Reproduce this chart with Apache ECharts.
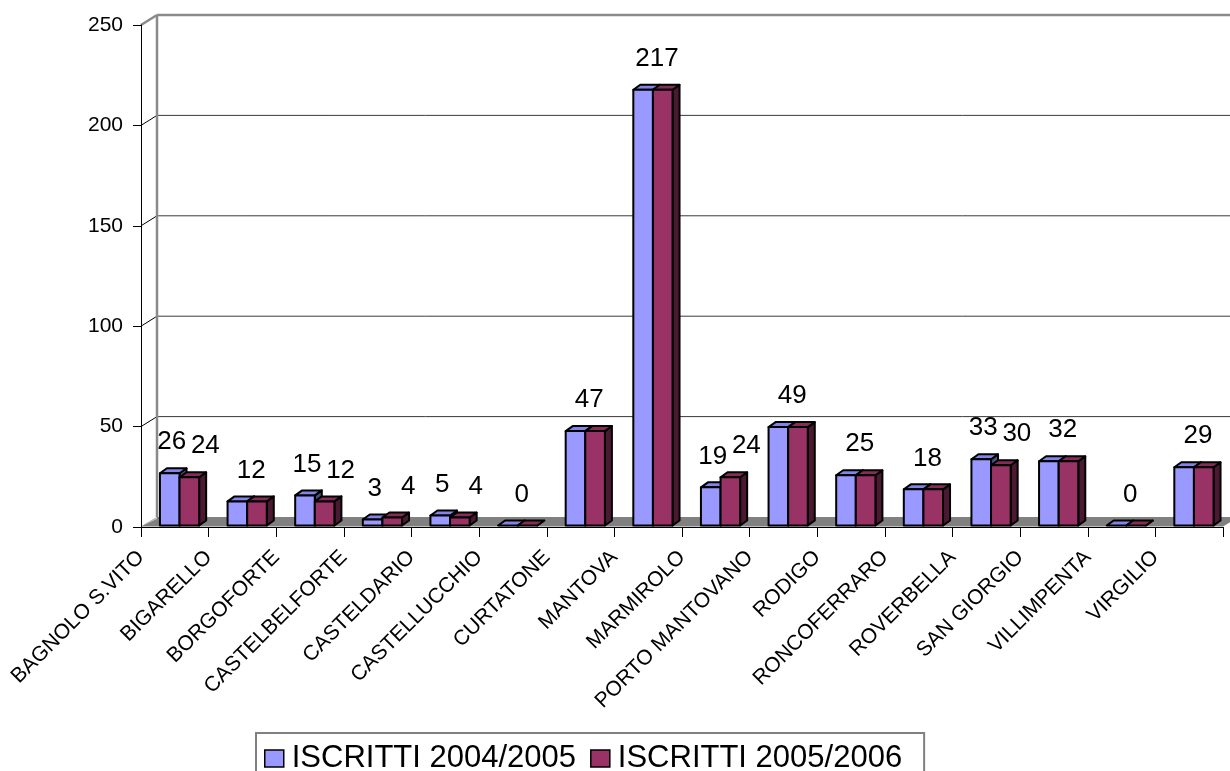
<!DOCTYPE html>
<html>
<head>
<meta charset="utf-8">
<title>Iscritti per comune</title>
<script src="https://cdn.jsdelivr.net/npm/echarts@6/dist/echarts.min.js"></script>
<style>
  html, body { margin: 0; padding: 0; background: #ffffff; }
  #chart { width: 1230px; height: 771px; }
</style>
</head>
<body>
<div id="chart"></div>
<script>
// Comuni (one band each) and enrolment counts for the two school years
const comuni = [
  'BAGNOLO S.VITO', 'BIGARELLO', 'BORGOFORTE', 'CASTELBELFORTE', 'CASTELDARIO',
  'CASTELLUCCHIO', 'CURTATONE', 'MANTOVA', 'MARMIROLO', 'PORTO MANTOVANO',
  'RODIGO', 'RONCOFERRARO', 'ROVERBELLA', 'SAN GIORGIO', 'VILLIMPENTA', 'VIRGILIO'
];
const iscritti0405 = [26, 12, 15, 3, 5, 0, 47, 217, 19, 49, 25, 18, 33, 32, 0, 29];
const iscritti0506 = [24, 12, 12, 4, 4, 0, 47, 217, 24, 49, 25, 18, 30, 32, 0, 29];
const seriesNames = ['ISCRITTI 2004/2005', 'ISCRITTI 2005/2006'];
const valueTicks = [0, 50, 100, 150, 200, 250];

const FONT = "'Liberation Sans', Arial, Helvetica, sans-serif";

// pseudo-3D geometry: wall depth and column depth in pixels
const WALL = [16, -10];
const DEPTH = [7, -5];
const SHIFT = [0, -1.5];

const faceColors = [
  { front: '#9999FF', top: '#8484E6', side: '#4D4D80' },
  { front: '#993366', top: '#862C59', side: '#4C1933' }
];
const allValues = [iscritti0405, iscritti0506];

// back wall, left-wall tick diagonals, grey floor and value-axis labels
function renderFrame(params, api) {
  const cs = params.coordSys;
  const v = api.value(1);
  const y = api.coord([0, v])[1];
  const x0 = cs.x, x1 = cs.x + cs.width;
  const maxTick = valueTicks[valueTicks.length - 1];
  const children = [];
  if (v === 0) {
    children.push({
      type: 'polygon',
      shape: { points: [[x0, y - 0.5], [x1, y - 0.5], [x1 + WALL[0], y + WALL[1]], [x0 + WALL[0], y + WALL[1]]] },
      style: { fill: '#808080' }
    });
    children.push({
      type: 'polygon',
      shape: { points: [[x0, y - 0.5], [x0 + WALL[0], y + WALL[1]], [x0 + WALL[0], y + WALL[1] + 2]] },
      style: { fill: '#c0c0c0' }
    });
  } else if (v === maxTick) {
    const yBase = api.coord([0, 0])[1];
    children.push({
      type: 'line',
      shape: { x1: x0, y1: y, x2: x0 + WALL[0], y2: y + WALL[1] },
      style: { stroke: '#8a8a8a', lineWidth: 2.5 }
    });
    children.push({
      type: 'line',
      shape: { x1: x0 + WALL[0], y1: y + WALL[1], x2: x1 + WALL[0] + 20, y2: y + WALL[1] },
      style: { stroke: '#8a8a8a', lineWidth: 2.5 }
    });
    children.push({
      type: 'line',
      shape: { x1: x0 + WALL[0], y1: y + WALL[1], x2: x0 + WALL[0], y2: yBase + WALL[1] },
      style: { stroke: '#8a8a8a', lineWidth: 2.5 }
    });
  } else {
    children.push({
      type: 'line',
      shape: { x1: x0, y1: y, x2: x0 + WALL[0], y2: y + WALL[1] },
      style: { stroke: '#000000', lineWidth: 1 }
    });
    children.push({
      type: 'line',
      shape: { x1: x0 + WALL[0], y1: y + WALL[1], x2: x1 + WALL[0] + 20, y2: y + WALL[1] },
      style: { stroke: '#3a3a3a', lineWidth: 1 }
    });
  }
  // tick label on the value axis
  children.push({
    type: 'text',
    style: {
      text: String(v),
      x: x0 - 18,
      y: y,
      align: 'right',
      verticalAlign: 'middle',
      fill: '#000000',
      font: '21px ' + FONT
    }
  });
  return { type: 'group', children: children };
}

// one 3D column (front, top and side faces) plus its value label
function makeColumnRenderer(s) {
  return function (params, api) {
    const i = api.value(0);
    const v = api.value(1);
    const band = api.size([1, 0])[0];
    const bw = band * 0.29;
    const start = api.coord([i, 0])[0];
    const xL = start + band * 0.28 + s * bw + SHIFT[0];
    const yB = api.coord([i, 0])[1] + SHIFT[1];
    const yT = api.coord([i, v])[1] + SHIFT[1];
    const c = faceColors[s];
    const stroke = { stroke: '#000000', lineWidth: 2, lineJoin: 'round' };
    const children = [
      {
        type: 'polygon',
        shape: { points: [[xL + bw, yT], [xL + bw + DEPTH[0], yT + DEPTH[1]], [xL + bw + DEPTH[0], yB + DEPTH[1]], [xL + bw, yB]] },
        style: Object.assign({ fill: c.side }, stroke)
      },
      {
        type: 'polygon',
        shape: { points: [[xL, yT], [xL + bw, yT], [xL + bw + DEPTH[0], yT + DEPTH[1]], [xL + DEPTH[0], yT + DEPTH[1]]] },
        style: Object.assign({ fill: c.top }, stroke)
      }
    ];
    if (yB - yT > 0.5) {
      children.push({
        type: 'rect',
        shape: { x: xL, y: yT, width: bw, height: yB - yT },
        style: Object.assign({ fill: c.front }, stroke)
      });
    }
    // equal pairs carry a single label centred on the pair
    const other = allValues[1 - s][i];
    const same = other === v;
    let lx = null;
    if (s === 0) lx = same ? xL + bw + 4 : xL + bw / 2 + 2;
    else if (!same) lx = xL + bw / 2 + 16;
    if (lx !== null) {
      children.push({
        type: 'text',
        z2: 10,
        style: {
          text: String(v),
          x: lx,
          y: yT - 31,
          align: 'center',
          verticalAlign: 'middle',
          fill: '#000000',
          font: '26px ' + FONT
        }
      });
    }
    return { type: 'group', children: children };
  };
}

const chart = echarts.init(document.getElementById('chart'), null, { renderer: 'canvas' });

chart.setOption({
  backgroundColor: '#ffffff',
  animation: false,
  textStyle: { fontFamily: FONT },
  grid: { left: 141, top: 25, right: 7, bottom: 244, containLabel: false },
  legend: {
    data: seriesNames,
    left: 256,
    top: 733,
    icon: 'rect',
    itemWidth: 19,
    itemHeight: 17,
    itemGap: 14,
    padding: [10, 22, 12, 8],
    borderColor: '#808080',
    borderWidth: 2,
    itemStyle: { borderColor: '#000000', borderWidth: 1.5 },
    textStyle: { fontSize: 31, color: '#000000', fontFamily: FONT, padding: [0, 0, 0, 3] }
  },
  xAxis: {
    type: 'category',
    data: comuni.concat(['']),
    boundaryGap: false,
    z: 5,
    axisLine: { show: true, lineStyle: { color: '#000000', width: 1 } },
    axisTick: { show: true, length: 10, interval: 0, lineStyle: { color: '#000000', width: 1 } },
    axisLabel: {
      interval: 0,
      rotate: 45,
      margin: 27,
      fontSize: 21,
      color: '#000000',
      fontFamily: FONT
    },
    splitLine: { show: false }
  },
  yAxis: {
    type: 'value',
    min: 0,
    max: 250,
    interval: 50,
    z: 5,
    axisLine: { show: true, lineStyle: { color: '#000000', width: 1 } },
    axisTick: { show: true, length: 8, lineStyle: { color: '#000000', width: 1 } },
    axisLabel: { show: false },
    splitLine: { show: false }
  },
  series: [
    {
      type: 'custom',
      name: 'frame',
      z: 1,
      silent: true,
      renderItem: renderFrame,
      encode: { x: 0, y: 1 },
      data: valueTicks.map(function (v) { return [0, v]; })
    },
    {
      type: 'custom',
      name: seriesNames[0],
      z: 2,
      itemStyle: { color: faceColors[0].front },
      renderItem: makeColumnRenderer(0),
      encode: { x: 0, y: 1 },
      data: iscritti0405.map(function (v, i) { return [i, v]; })
    },
    {
      type: 'custom',
      name: seriesNames[1],
      z: 3,
      itemStyle: { color: faceColors[1].front },
      renderItem: makeColumnRenderer(1),
      encode: { x: 0, y: 1 },
      data: iscritti0506.map(function (v, i) { return [i, v]; })
    }
  ]
});
</script>
</body>
</html>
